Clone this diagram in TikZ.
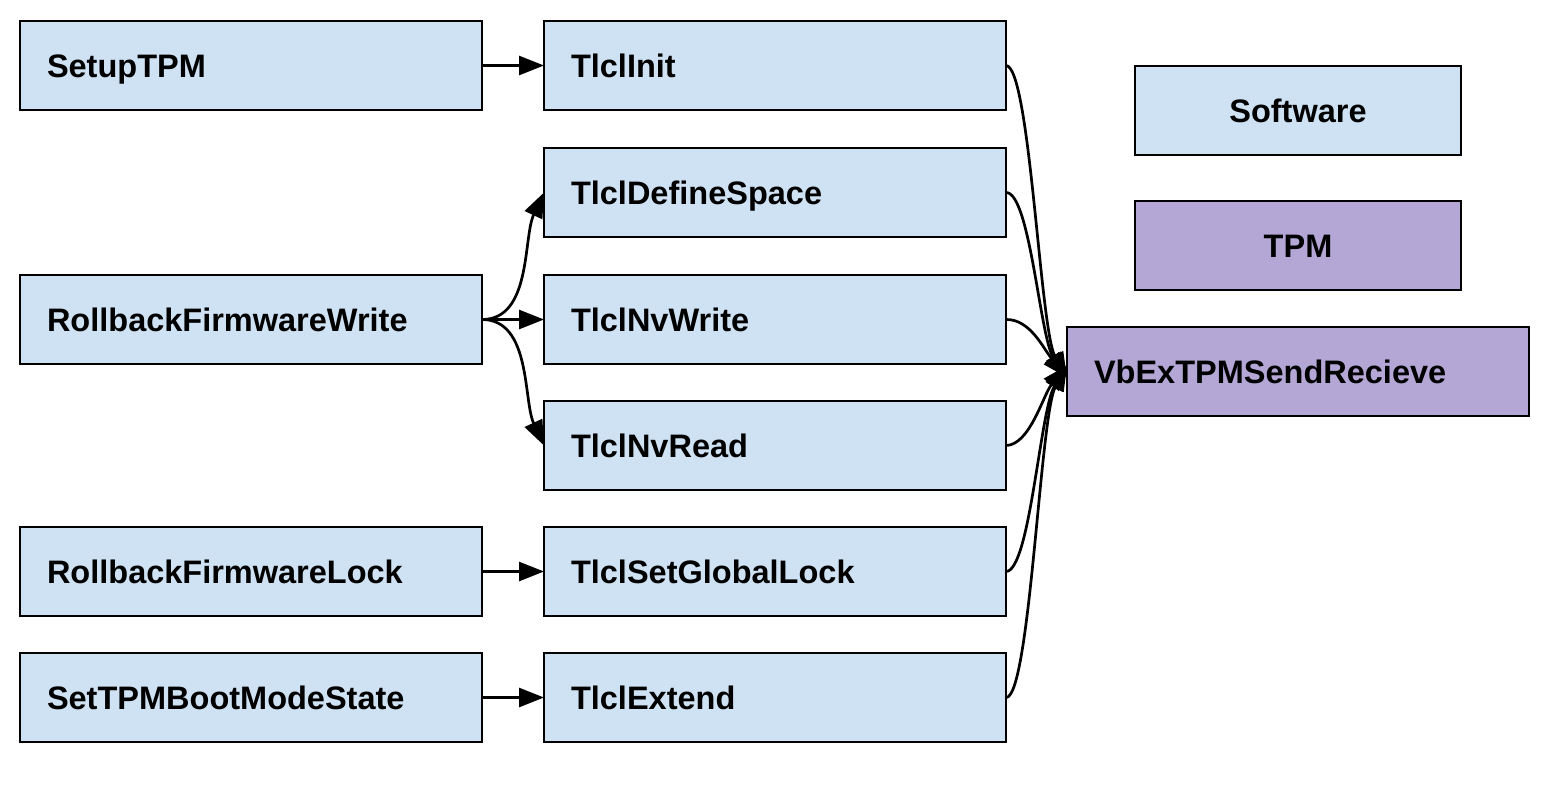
\documentclass[tikz,border=0pt]{standalone}
\usepackage{fontspec}
\setmainfont{Liberation Sans}
\usetikzlibrary{arrows.meta}
\definecolor{sw}{HTML}{CFE2F3}
\definecolor{tpm}{HTML}{B4A7D6}
\definecolor{bd}{HTML}{000000}
\begin{document}
\begin{tikzpicture}[x=1pt,y=-1pt,
  box/.style={draw=bd,line width=2.8pt,fill=sw,anchor=north west,outer sep=0pt,
    inner xsep=27pt,inner ysep=0pt,text width=408pt,minimum height=89pt,align=left,
    text height=23pt,text depth=0pt,
    font=\fontsize{32.5}{36}\selectfont\bfseries},
  cbox/.style={draw=bd,line width=2.8pt,anchor=north west,outer sep=0pt,
    inner sep=0pt,minimum width=326pt,minimum height=89pt,align=center,
    text height=23pt,text depth=0pt,
    font=\fontsize{32.5}{36}\selectfont\bfseries},
  arr/.style={line width=2.7pt,draw=black,-{Triangle[length=25pt,width=19pt]}}]
\useasboundingbox (0,0) rectangle (1552,788);
% left column
\node[box] (setup) at (20,21) {SetupTPM};
\node[box] (rfw) at (20,275) {RollbackFirmwareWrite};
\node[box] (rfl) at (20,527) {RollbackFirmwareLock};
\node[box] (stb) at (20,653) {SetTPMBootModeState};
% middle column
\node[box] (init) at (544,21) {TlclInit};
\node[box] (def) at (544,148) {TlclDefineSpace};
\node[box] (nvw) at (544,275) {TlclNvWrite};
\node[box] (nvr) at (544,401) {TlclNvRead};
\node[box] (sgl) at (544,527) {TlclSetGlobalLock};
\node[box] (ext) at (544,653) {TlclExtend};
% right
\node[cbox,fill=sw] (soft) at (1135,66) {Software};
\node[cbox,fill=tpm] (tpmk) at (1135,201) {TPM};
\node[box,fill=tpm] (vb) at (1067,327) {VbExTPMSendRecieve};
\coordinate (vt) at ([yshift=-6pt]vb.west);
\coordinate (vbt) at ([yshift=6pt]vb.west);
% left arrows
\draw[arr] (setup.east) -- (init.west);
\draw[arr] (rfw.east) -- (nvw.west);
\draw[arr] (rfw.east) to[out=0,in=245,looseness=0.9] (def.west);
\draw[arr] (rfw.east) to[out=0,in=115,looseness=0.9] (nvr.west);
\draw[arr] (rfl.east) -- (sgl.west);
\draw[arr] (stb.east) -- (ext.west);
% right arrows
\draw[arr] (init.east) .. controls (1030,66) and (1040,330) .. (vt);
\draw[arr] (def.east) .. controls (1030,192) and (1040,338) .. (vt);
\draw[arr] (nvw.east) .. controls (1030,319) and (1043,348) .. (vt);
\draw[arr] (nvr.east) .. controls (1030,445) and (1043,395) .. (vbt);
\draw[arr] (sgl.east) .. controls (1030,571) and (1040,410) .. (vbt);
\draw[arr] (ext.east) .. controls (1030,698) and (1040,415) .. (vbt);
\end{tikzpicture}
\end{document}
